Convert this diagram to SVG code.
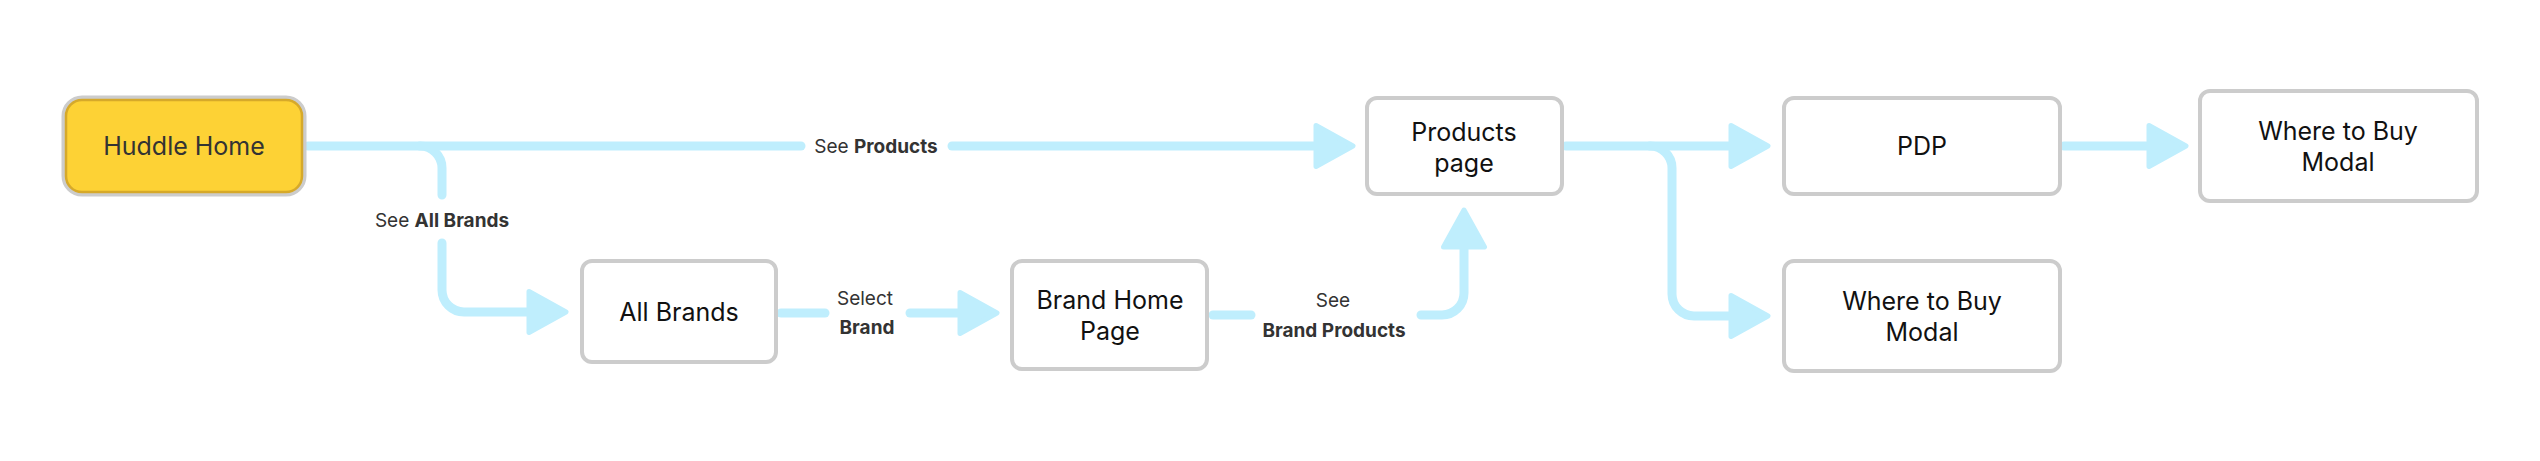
<svg xmlns="http://www.w3.org/2000/svg" width="2540" height="461" viewBox="0 0 2540 461">
<style>
.node{fill:#ffffff;stroke:#cccccc;stroke-width:4}
.nt{font-family:Inter,"Noto Sans","Liberation Sans",sans-serif;font-size:25px;fill:#111111;text-anchor:middle;dominant-baseline:central}
.lb{font-family:Inter,"Noto Sans","Liberation Sans",sans-serif;font-size:19px;fill:#333333;text-anchor:middle;dominant-baseline:central}
.b{font-weight:700}
.c{fill:none;stroke:#bfeefd;stroke-width:9;stroke-linecap:round;stroke-linejoin:round}
</style>
<defs>
<marker id="arr" markerUnits="userSpaceOnUse" markerWidth="50" markerHeight="56" viewBox="-4 -28 50 56" refX="0" refY="0" orient="auto">
<path d="M0,-20.5 L37,0 L0,20.5 Z" fill="#bfeefd" stroke="#bfeefd" stroke-width="5" stroke-linejoin="round"/>
</marker>
</defs>
<rect width="2540" height="461" fill="#ffffff"/>
<g id="connectors">
<path class="c" d="M308,146 H801"/>
<path class="c" d="M952,146 H1316" marker-end="url(#arr)"/>
<path class="c" d="M420,146 A22,22 0 0 1 442,168 V195"/>
<path class="c" d="M442,243 V290 A22,22 0 0 0 464,312 H529" marker-end="url(#arr)"/>
<path class="c" d="M781,313 H825"/>
<path class="c" d="M910,313 H960" marker-end="url(#arr)"/>
<path class="c" d="M1213,315 H1251"/>
<path class="c" d="M1421,315 H1442 A22,22 0 0 0 1464,293 V247" marker-end="url(#arr)"/>
<path class="c" d="M1566,146 H1731" marker-end="url(#arr)"/>
<path class="c" d="M1650,146 A22,22 0 0 1 1672,168 V294 A22,22 0 0 0 1694,316 H1731" marker-end="url(#arr)"/>
<path class="c" d="M2064,146 H2149" marker-end="url(#arr)"/>
<text class="lb" x="876" y="146">See <tspan class="b">Products</tspan></text>
<text class="lb" x="442" y="220">See <tspan class="b">All Brands</tspan></text>
<text class="lb" x="865" y="298">Select</text>
<text class="lb b" x="867" y="327">Brand</text>
<text class="lb" x="1333" y="300">See</text>
<text class="lb b" x="1334" y="330">Brand Products</text>
</g>
<g id="huddle-home">
<rect x="64" y="98" width="240" height="96" rx="18" fill="#fdd235" stroke="#cccccc" stroke-width="5"/>
<rect x="66" y="100" width="236" height="92" rx="16" fill="none" stroke="#d6a92a" stroke-width="2.5"/>
<text class="nt" x="184" y="146" style="fill:#333333">Huddle Home</text>
</g>
<g id="products-page">
<rect class="node" x="1367" y="98" width="195" height="96" rx="10"/>
<text class="nt" x="1464" y="132">Products</text>
<text class="nt" x="1464" y="163">page</text>
</g>
<g id="pdp">
<rect class="node" x="1784" y="98" width="276" height="96" rx="10"/>
<text class="nt" x="1922" y="146">PDP</text>
</g>
<g id="where-to-buy-top">
<rect class="node" x="2200" y="91" width="277" height="110" rx="10"/>
<text class="nt" x="2338" y="131">Where to Buy</text>
<text class="nt" x="2338" y="162">Modal</text>
</g>
<g id="all-brands">
<rect class="node" x="582" y="261" width="194" height="101" rx="10"/>
<text class="nt" x="679" y="312">All Brands</text>
</g>
<g id="brand-home-page">
<rect class="node" x="1012" y="261" width="195" height="108" rx="10"/>
<text class="nt" x="1110" y="300">Brand Home</text>
<text class="nt" x="1110" y="331">Page</text>
</g>
<g id="where-to-buy-lower">
<rect class="node" x="1784" y="261" width="276" height="110" rx="10"/>
<text class="nt" x="1922" y="301">Where to Buy</text>
<text class="nt" x="1922" y="332">Modal</text>
</g>
</svg>
